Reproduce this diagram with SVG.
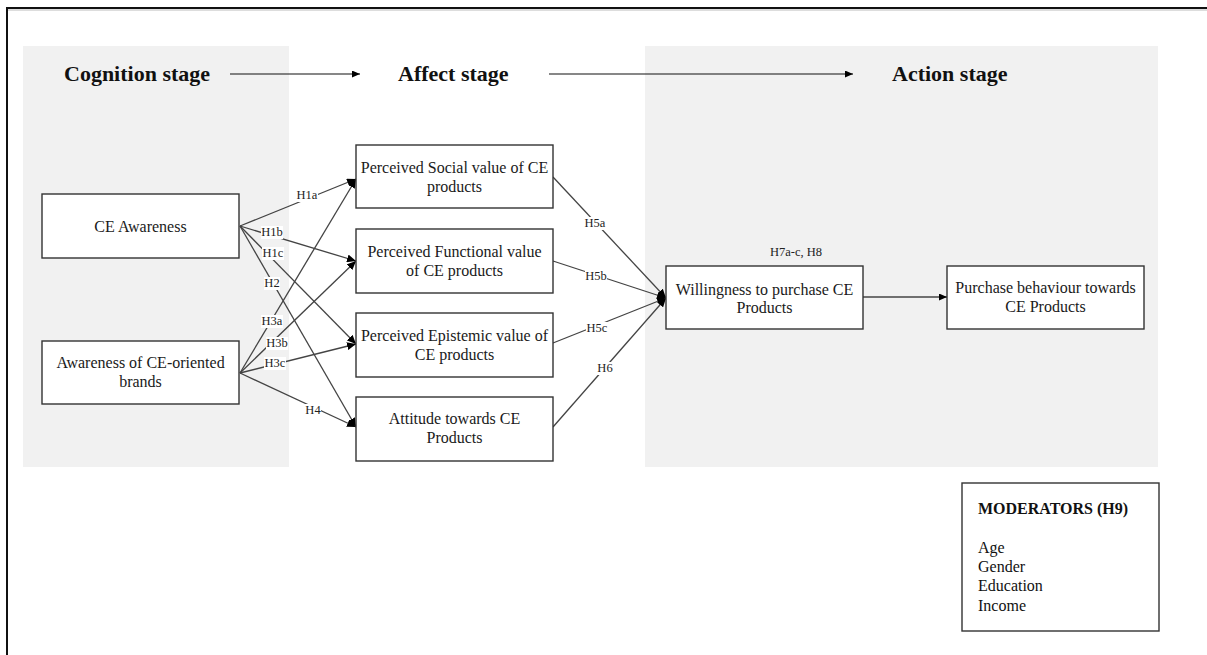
<svg xmlns="http://www.w3.org/2000/svg" width="1207" height="655" viewBox="0 0 1207 655">
<style>
.panel{fill:#f1f1f1}
.box{fill:#fff;stroke:#333;stroke-width:1.4}
.t{font-family:"Liberation Serif","Times New Roman",serif;font-size:16px;fill:#1a1a1a;text-anchor:middle}
.h{font-family:"Liberation Serif","Times New Roman",serif;font-size:22px;font-weight:bold;fill:#111}
.lbl{font-family:"Liberation Serif","Times New Roman",serif;font-size:12.5px;fill:#222;text-anchor:middle}
.lb{fill:#fff}
.e{stroke:#444;stroke-width:1.3;fill:none}
.m{font-family:"Liberation Serif","Times New Roman",serif;font-size:16px;fill:#111}
</style>
<defs>
<marker id="ah" markerUnits="userSpaceOnUse" markerWidth="9" markerHeight="8" refX="9" refY="4" orient="auto">
<path d="M0,0 L9,4 L0,8 z" fill="#000"/>
</marker>
<marker id="ah2" markerUnits="userSpaceOnUse" markerWidth="8" markerHeight="7" refX="8" refY="3.5" orient="auto">
<path d="M0,0 L8,3.5 L0,7 z" fill="#000"/>
</marker>
</defs>
<rect width="1207" height="655" fill="#fff"/>
<!-- frame -->
<line x1="7" y1="8" x2="1207" y2="8" stroke="#111" stroke-width="2"/>
<line x1="7" y1="10" x2="1207" y2="10" stroke="#bbb" stroke-width="1"/>
<line x1="7" y1="7" x2="7" y2="655" stroke="#111" stroke-width="2"/>
<!-- panels -->
<rect class="panel" x="23" y="46" width="266" height="421"/>
<rect class="panel" x="645" y="46" width="513" height="421"/>
<!-- stage headers -->
<g id="stages">
<text class="h" x="64" y="81">Cognition stage</text>
<text class="h" x="398" y="81">Affect stage</text>
<text class="h" x="892" y="81">Action stage</text>
<line x1="230" y1="74" x2="360" y2="74" stroke="#111" stroke-width="1.2" marker-end="url(#ah2)"/>
<line x1="549" y1="74" x2="853" y2="74" stroke="#111" stroke-width="1.2" marker-end="url(#ah2)"/>
</g>
<!-- connectors -->
<g id="connectors">
<line class="e" x1="240" y1="226" x2="356" y2="179" marker-end="url(#ah)"/>
<line class="e" x1="240" y1="226" x2="356" y2="261" marker-end="url(#ah)"/>
<line class="e" x1="240" y1="226" x2="356" y2="344" marker-end="url(#ah)"/>
<line class="e" x1="240" y1="226" x2="356" y2="427" marker-end="url(#ah)"/>
<line class="e" x1="240" y1="373" x2="356" y2="179" marker-end="url(#ah)"/>
<line class="e" x1="240" y1="373" x2="356" y2="261" marker-end="url(#ah)"/>
<line class="e" x1="240" y1="373" x2="356" y2="344" marker-end="url(#ah)"/>
<line class="e" x1="240" y1="373" x2="356" y2="427" marker-end="url(#ah)"/>
<line class="e" x1="553" y1="177" x2="666" y2="298" marker-end="url(#ah)"/>
<line class="e" x1="553" y1="261" x2="666" y2="298" marker-end="url(#ah)"/>
<line class="e" x1="553" y1="343" x2="666" y2="298" marker-end="url(#ah)"/>
<line class="e" x1="553" y1="427" x2="666" y2="298" marker-end="url(#ah)"/>
<line class="e" x1="863" y1="297" x2="947" y2="297" marker-end="url(#ah2)"/>
<g id="labels">
<rect class="lb" x="296" y="189" width="22" height="13"/><text class="lbl" x="307" y="199">H1a</text>
<rect class="lb" x="261" y="226" width="22" height="13"/><text class="lbl" x="272" y="236">H1b</text>
<rect class="lb" x="262" y="247" width="22" height="13"/><text class="lbl" x="273" y="257">H1c</text>
<rect class="lb" x="264" y="277" width="16" height="13"/><text class="lbl" x="272" y="287">H2</text>
<rect class="lb" x="261" y="315" width="22" height="13"/><text class="lbl" x="272" y="325">H3a</text>
<rect class="lb" x="266" y="337" width="22" height="13"/><text class="lbl" x="277" y="347">H3b</text>
<rect class="lb" x="264" y="357" width="22" height="13"/><text class="lbl" x="275" y="367">H3c</text>
<rect class="lb" x="305" y="404" width="16" height="13"/><text class="lbl" x="313" y="414">H4</text>
<rect class="lb" x="584" y="217" width="22" height="13"/><text class="lbl" x="595" y="227">H5a</text>
<rect class="lb" x="585" y="270" width="22" height="13"/><text class="lbl" x="596" y="280">H5b</text>
<rect class="lb" x="586" y="322" width="22" height="13"/><text class="lbl" x="597" y="332">H5c</text>
<rect class="lb" x="597" y="362" width="16" height="13"/><text class="lbl" x="605" y="372">H6</text>
<text class="lbl" x="796" y="256">H7a-c, H8</text>
</g>
</g>
<!-- nodes -->
<g id="ce-awareness">
<rect class="box" x="42" y="194" width="197" height="64"/>
<text class="t" x="140.5" y="232">CE Awareness</text>
</g>
<g id="brand-awareness">
<rect class="box" x="42" y="341" width="197" height="63"/>
<text class="t" x="140.5" y="368">Awareness of CE-oriented</text>
<text class="t" x="140.5" y="387">brands</text>
</g>
<g id="social-value">
<rect class="box" x="356" y="145" width="197" height="63"/>
<text class="t" x="454.5" y="173">Perceived Social value of CE</text>
<text class="t" x="454.5" y="192">products</text>
</g>
<g id="functional-value">
<rect class="box" x="356" y="229" width="197" height="64"/>
<text class="t" x="454.5" y="257">Perceived Functional value</text>
<text class="t" x="454.5" y="276">of CE products</text>
</g>
<g id="epistemic-value">
<rect class="box" x="356" y="313" width="197" height="64"/>
<text class="t" x="454.5" y="341">Perceived Epistemic value of</text>
<text class="t" x="454.5" y="360">CE products</text>
</g>
<g id="attitude">
<rect class="box" x="356" y="397" width="197" height="64"/>
<text class="t" x="454.5" y="424">Attitude towards CE</text>
<text class="t" x="454.5" y="443">Products</text>
</g>
<g id="willingness">
<rect class="box" x="666" y="266" width="197" height="63"/>
<text class="t" x="764.5" y="295">Willingness to purchase CE</text>
<text class="t" x="764.5" y="313">Products</text>
</g>
<g id="purchase-behaviour">
<rect class="box" x="947" y="266" width="197" height="63"/>
<text class="t" x="1045.5" y="293">Purchase behaviour towards</text>
<text class="t" x="1045.5" y="312">CE Products</text>
</g>
<g id="moderators">
<rect class="box" x="962" y="483" width="197" height="148"/>
<text class="m" x="978" y="514" font-weight="bold">MODERATORS (H9)</text>
<text class="m" x="978" y="553">Age</text>
<text class="m" x="978" y="572">Gender</text>
<text class="m" x="978" y="591">Education</text>
<text class="m" x="978" y="611">Income</text>
</g>
</svg>
